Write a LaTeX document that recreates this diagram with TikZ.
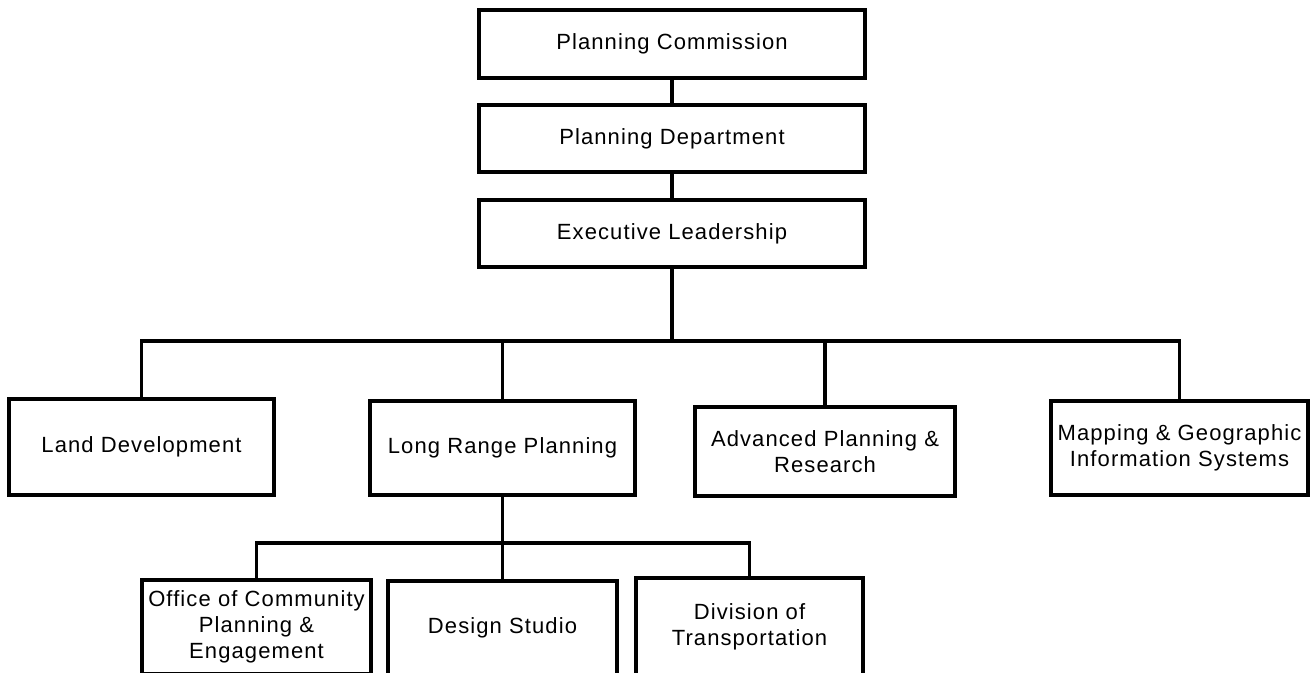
\documentclass[tikz,border=0pt]{standalone}
\usepackage{fontspec}
\setmainfont{Liberation Sans}[LetterSpace=5]
\begin{document}
\begin{tikzpicture}[x=0.75pt,y=-0.75pt,
  unit/.style={draw, line width=2.3pt, inner sep=0pt, outer sep=0pt,
    align=center, font=\fontsize{16.5}{19.5}\selectfont},
  link/.style={line width=2.3pt, line join=miter}]
\useasboundingbox (0,0) rectangle (1312,673);

% top of the hierarchy (sizes in pt)
\node[unit, minimum width=289.5pt, minimum height=51pt]    (pc) at (672,44)    {Planning Commission};
\node[unit, minimum width=289.5pt, minimum height=50.25pt] (pd) at (672,138.5) {Planning Department};
\node[unit, minimum width=289.5pt, minimum height=50.25pt] (el) at (672,233.5) {Executive Leadership};

% divisions
\node[unit, minimum width=198.75pt, minimum height=72pt]    (ld)  at (141.5,447)  {Land Development};
\node[unit, minimum width=198.75pt, minimum height=70.5pt]  (lrp) at (502.5,448)  {Long Range Planning};
\node[unit, minimum width=195pt,    minimum height=66.75pt] (apr) at (825,451.5)  {Advanced Planning \&\\Research};
\node[unit, minimum width=192.75pt, minimum height=70.5pt]  (mg)  at (1179.5,448) {Mapping \& Geographic\\Information Systems};

% sections under Long Range Planning
\node[unit, minimum width=171.75pt, minimum height=70.5pt]  (oc)  at (256.5,627)   {Office of Community\\Planning \&\\Engagement};
\node[unit, minimum width=171.75pt, minimum height=70.5pt]  (ds)  at (502.5,628)   {Design Studio};
\node[unit, minimum width=170.25pt, minimum height=72.75pt] (dot) at (749.5,626.5) {Division of\\Transportation};

% connectors
\coordinate (bar) at (672,341);
\coordinate (sub) at (503,543);
\draw[link] (pc.south) -- (pd.north);
\draw[link] (pd.south) -- (el.north);
\draw[link] (el.south) -- (bar);
\draw[link] (ld.north) -- (ld.north |- bar) -- (mg.north |- bar) -- (mg.north);
\draw[link] (lrp.north) -- (lrp.north |- bar);
\draw[link] (apr.north) -- (apr.north |- bar);
\draw[link] (lrp.south) -- (lrp.south |- sub);
\draw[link] (oc.north) -- (oc.north |- sub) -- (dot.north |- sub) -- (dot.north);
\draw[link] (ds.north) -- (ds.north |- sub);
\end{tikzpicture}
\end{document}
